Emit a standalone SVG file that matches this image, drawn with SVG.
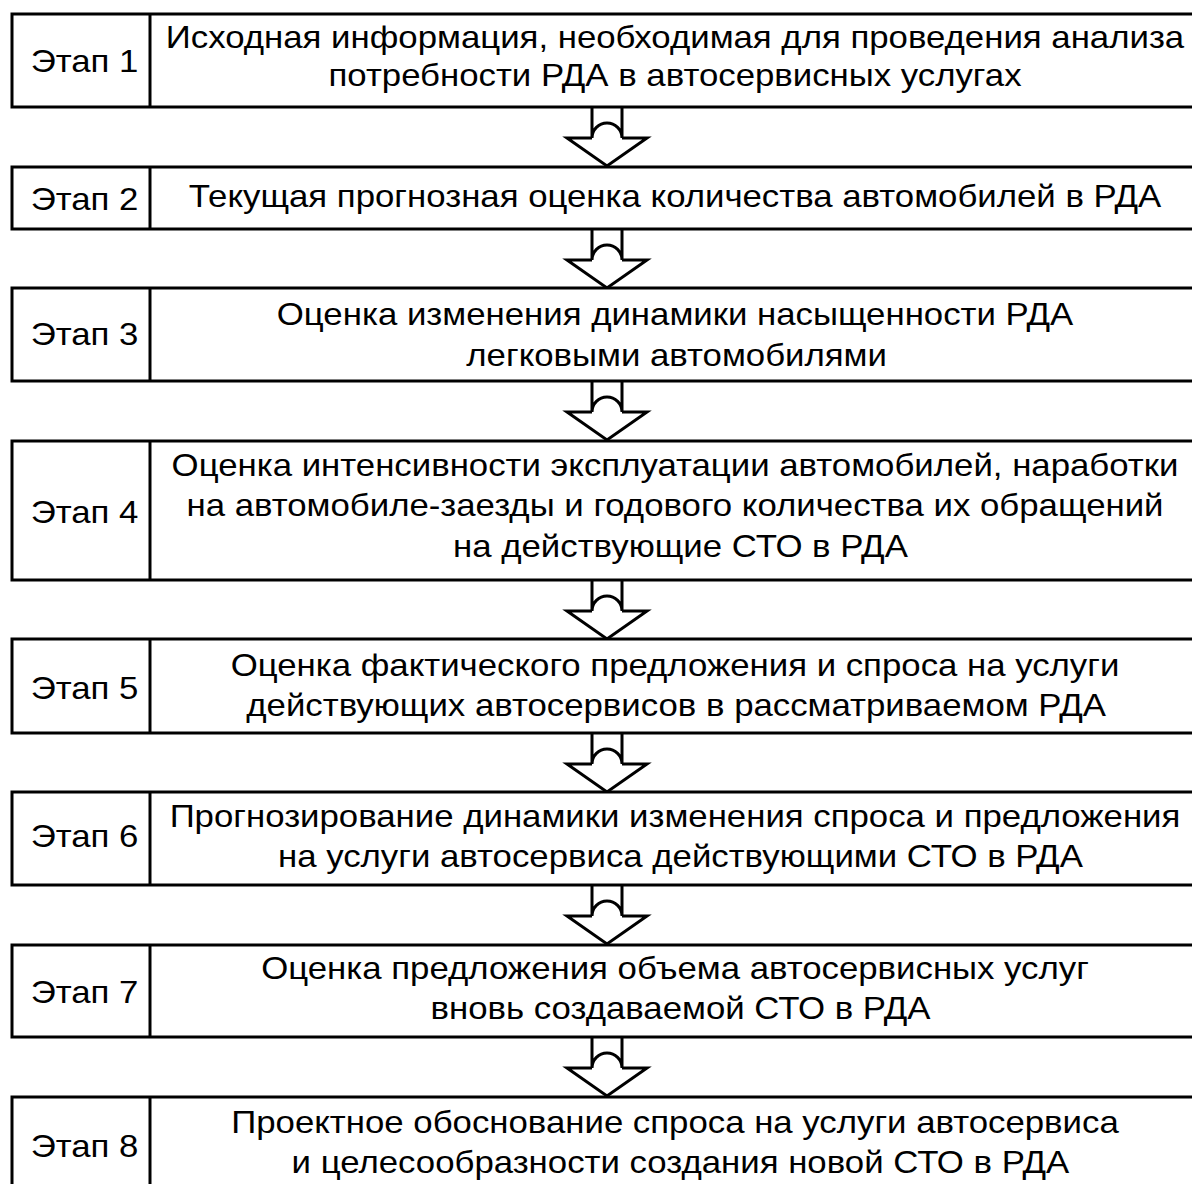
<svg xmlns="http://www.w3.org/2000/svg" xmlns:xlink="http://www.w3.org/1999/xlink" width="1192" height="1184" viewBox="0 0 1192 1184">
<style>
.box{fill:#fff;stroke:#000;stroke-width:3}
.div{stroke:#000;stroke-width:3}
.t{font-family:"Liberation Sans",Arial,sans-serif;font-size:32px;fill:#000;text-anchor:middle}
.arr{fill:none;stroke:#000;stroke-width:3;stroke-linejoin:miter}
</style>
<defs>
<g id="arrow">
<path class="arr" d="M592,0 V31 M622,0 V31 M592,31 A15,15 0 0 1 622,31 M592,31 H567 L607,59 L647,31 H622"/>
</g>
</defs>
<rect width="1192" height="1184" fill="#fff"/>
<g id="connectors">
<use xlink:href="#arrow" transform="translate(0,107)"/>
<use xlink:href="#arrow" transform="translate(0,229)"/>
<use xlink:href="#arrow" transform="translate(0,381)"/>
<use xlink:href="#arrow" transform="translate(0,580)"/>
<use xlink:href="#arrow" transform="translate(0,733)"/>
<use xlink:href="#arrow" transform="translate(0,885)"/>
<use xlink:href="#arrow" transform="translate(0,1037)"/>
</g>
<g id="stage1">
<rect class="box" x="12" y="14" width="1188" height="93"/>
<line class="div" x1="150" y1="14" x2="150" y2="107"/>
<g transform="translate(84.5 0) scale(1.087 1)"><text class="t" x="0" y="72">Этап 1</text></g>
<g transform="translate(675 0) scale(1.087 1)">
<text class="t" x="0" y="48">Исходная информация, необходимая для проведения анализа</text>
<text class="t" x="0" y="86">потребности РДА в автосервисных услугах</text>
</g>
</g>
<g id="stage2">
<rect class="box" x="12" y="167" width="1188" height="62"/>
<line class="div" x1="150" y1="167" x2="150" y2="229"/>
<g transform="translate(84.5 0) scale(1.087 1)"><text class="t" x="0" y="210">Этап 2</text></g>
<g transform="translate(675 0) scale(1.087 1)">
<text class="t" x="0" y="207">Текущая прогнозная оценка количества автомобилей в РДА</text>
</g>
</g>
<g id="stage3">
<rect class="box" x="12" y="288" width="1188" height="93"/>
<line class="div" x1="150" y1="288" x2="150" y2="381"/>
<g transform="translate(84.5 0) scale(1.087 1)"><text class="t" x="0" y="345">Этап 3</text></g>
<g transform="translate(675 0) scale(1.087 1)">
<text class="t" x="0" y="325">Оценка изменения динамики насыщенности РДА</text>
<text class="t" x="1.5" y="366">легковыми автомобилями</text>
</g>
</g>
<g id="stage4">
<rect class="box" x="12" y="441" width="1188" height="139"/>
<line class="div" x1="150" y1="441" x2="150" y2="580"/>
<g transform="translate(84.5 0) scale(1.087 1)"><text class="t" x="0" y="523">Этап 4</text></g>
<g transform="translate(675 0) scale(1.087 1)">
<text class="t" x="0" y="476">Оценка интенсивности эксплуатации автомобилей, наработки</text>
<text class="t" x="0" y="516">на автомобиле-заезды и годового количества их обращений</text>
<text class="t" x="5" y="557">на действующие СТО в РДА</text>
</g>
</g>
<g id="stage5">
<rect class="box" x="12" y="639" width="1188" height="94"/>
<line class="div" x1="150" y1="639" x2="150" y2="733"/>
<g transform="translate(84.5 0) scale(1.087 1)"><text class="t" x="0" y="699">Этап 5</text></g>
<g transform="translate(675 0) scale(1.087 1)">
<text class="t" x="0" y="676">Оценка фактического предложения и спроса на услуги</text>
<text class="t" x="1" y="716">действующих автосервисов в рассматриваемом РДА</text>
</g>
</g>
<g id="stage6">
<rect class="box" x="12" y="792" width="1188" height="93"/>
<line class="div" x1="150" y1="792" x2="150" y2="885"/>
<g transform="translate(84.5 0) scale(1.087 1)"><text class="t" x="0" y="847">Этап 6</text></g>
<g transform="translate(675 0) scale(1.087 1)">
<text class="t" x="0" y="827">Прогнозирование динамики изменения спроса и предложения</text>
<text class="t" x="5" y="867">на услуги автосервиса действующими СТО в РДА</text>
</g>
</g>
<g id="stage7">
<rect class="box" x="12" y="945" width="1188" height="92"/>
<line class="div" x1="150" y1="945" x2="150" y2="1037"/>
<g transform="translate(84.5 0) scale(1.087 1)"><text class="t" x="0" y="1003">Этап 7</text></g>
<g transform="translate(675 0) scale(1.087 1)">
<text class="t" x="0" y="979">Оценка предложения объема автосервисных услуг</text>
<text class="t" x="5" y="1019">вновь создаваемой СТО в РДА</text>
</g>
</g>
<g id="stage8">
<rect class="box" x="12" y="1097" width="1188" height="100"/>
<line class="div" x1="150" y1="1097" x2="150" y2="1197"/>
<g transform="translate(84.5 0) scale(1.087 1)"><text class="t" x="0" y="1157">Этап 8</text></g>
<g transform="translate(675 0) scale(1.087 1)">
<text class="t" x="0" y="1133">Проектное обоснование спроса на услуги автосервиса</text>
<text class="t" x="5" y="1173">и целесообразности создания новой СТО в РДА</text>
</g>
</g>
</svg>
